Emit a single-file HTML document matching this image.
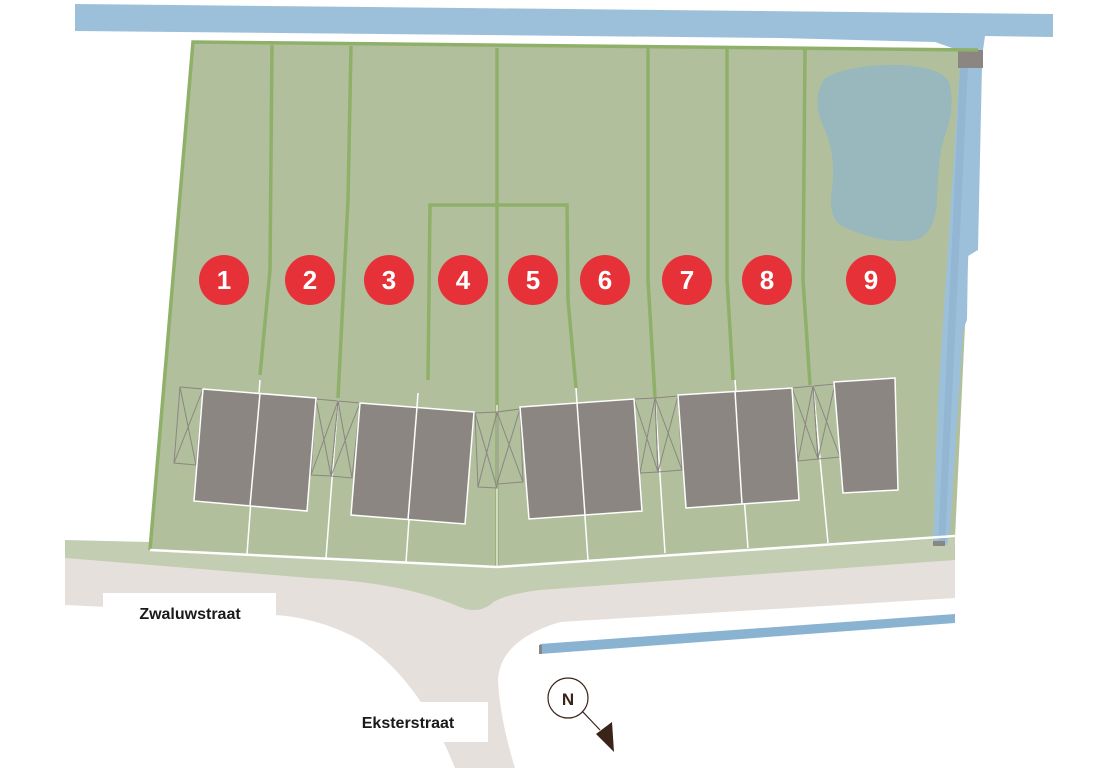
<!DOCTYPE html>
<html><head><meta charset="utf-8"><style>
html,body{margin:0;padding:0;background:#fff;width:1100px;height:768px;overflow:hidden}
svg{display:block}
</style></head><body>
<svg width="1100" height="768" viewBox="0 0 1100 768" xmlns="http://www.w3.org/2000/svg" font-family="Liberation Sans, Arial, sans-serif">
<!-- top water -->
<path d="M75,4 L1053,14 L1053,37 L985,36 L983,50 L958,50 L935,42 L780,38 L75,31 Z" fill="#9dc0da"/>
<!-- road beige -->
<path d="M65,555 L955,540 L955,598 L560,622 Q500,640 498,680 Q500,720 515,768 L455,768 Q420,680 360,640 Q320,618 275,615 L65,605 Z" fill="#e6e0dc"/>
<!-- white label boxes -->
<rect x="103" y="593" width="173" height="28" fill="#fff"/>
<rect x="340" y="702" width="148" height="40" fill="#fff"/>
<!-- light green verge -->
<path d="M65,540 L150,542 L955,528 L955,560 L540,590 Q500,595 490,605 Q475,615 455,605 Q400,582 310,578 L65,558 Z" fill="#c3cdb2"/>
<!-- land -->
<path d="M193,42 L978,50 L955,538 L497,567 L150,550 Z" fill="#b1bf9c"/>
<!-- pond -->
<path d="M825,78 Q850,64 900,65 Q945,67 950,85 Q955,110 945,135 Q938,155 937,200 Q935,235 915,240 Q880,245 840,225 Q828,215 832,190 Q836,155 825,130 Q810,100 825,78 Z" fill="#98b8bd"/>
<!-- right canal -->
<path d="M960,66 L982,66 L978,250 L968,256 L967,320 L963,330 L950,530 L947,545 L933,545 L938,400 Z" fill="#9dc0da"/>
<path d="M960,66 L968,66 L945,545 L938,545 Z" fill="#8fb4cf" opacity="0.7"/>
<rect x="958" y="50" width="25" height="18" fill="#8b8682"/>
<rect x="933" y="541" width="12" height="5" fill="#8b8682"/>
<!-- lower canal -->
<path d="M540,644 L955,614 L955,623 L540,654 Z" fill="#8ab3d2"/>
<rect x="539" y="645" width="3" height="9" fill="#8b8682"/>
<!-- land boundary green -->
<g stroke="#8fb069" stroke-width="3.5" fill="none" stroke-linecap="butt">
<path d="M150,550 L193,42 L978,50"/>
<path d="M272,45 L270,270 L260,375"/>
<path d="M351,46 L348,200 L338,398"/>
<path d="M497,48 L497,566"/>
<path d="M428,380 L430,205 L567,205 L568,300 L576,388" />
<path d="M648,48 L648,280 L655,398"/>
<path d="M727,49 L727,280 L733,380"/>
<path d="M805,50 L803,280 L810,385"/>
</g>
<!-- white lot lines -->
<g stroke="#fff" stroke-width="1.5" fill="none">
<path d="M150,550 L497,567 L955,536" stroke-width="2.5"/>
<path d="M260,380 L247,554"/>
<path d="M338,400 L326,558"/>
<path d="M418,393 L406,562"/>
<path d="M497,405 L497,566" stroke="#e8ebe0"/>
<path d="M576,388 L588,560"/>
<path d="M655,398 L665,553"/>
<path d="M735,380 L748,548"/>
<path d="M813,385 L828,543"/>
</g>
<!-- carports -->
<g stroke="#8b8682" stroke-width="1" fill="none">
<path d="M180,387 L203,389 L196,465 L174,463 Z M180,387 L196,465 M203,389 L174,463"/>
<path d="M316,399 L338,401 L331,476 L311,475 Z M316,399 L331,476 M338,401 L311,475"/>
<path d="M338,401 L360,403 L352,478 L331,476 Z M338,401 L352,478 M360,403 L331,476"/>
<path d="M475,413 L497,412 L497,488 L478,487 Z M475,413 L497,488 M497,412 L478,487"/>
<path d="M497,412 L520,409 L523,482 L497,484 Z M497,412 L523,482 M520,409 L497,484"/>
<path d="M634,399 L655,398 L658,472 L640,473 Z M634,399 L658,472 M655,398 L640,473"/>
<path d="M655,398 L678,396 L682,470 L658,472 Z M655,398 L682,470 M678,396 L658,472"/>
<path d="M792,388 L813,386 L818,459 L798,461 Z M792,388 L818,459 M813,386 L798,461"/>
<path d="M813,386 L835,384 L840,457 L818,459 Z M813,386 L840,457 M835,384 L818,459"/>
</g>
<!-- houses -->
<g fill="#8b8682" stroke="#fff" stroke-width="1.5">
<path d="M203,389 L316,398 L307,511 L194,501 Z"/>
<path d="M360,403 L474,412 L465,524 L351,515 Z"/>
<path d="M520,407 L634,399 L642,511 L529,519 Z"/>
<path d="M678,395 L792,388 L799,500 L686,508 Z"/>
<path d="M834,382 L895,378 L898,490 L843,493 Z"/>
</g>
<g stroke="#fff" stroke-width="1.5">
<line x1="260" y1="393" x2="250" y2="506"/>
<line x1="417" y1="407" x2="408" y2="520"/>
<line x1="577" y1="403" x2="585" y2="515"/>
<line x1="735" y1="391" x2="742" y2="504"/>
</g>
<!-- circles -->
<g fill="#e63138">
<circle cx="224" cy="280" r="25"/><circle cx="310" cy="280" r="25"/><circle cx="389" cy="280" r="25"/>
<circle cx="463" cy="280" r="25"/><circle cx="533" cy="280" r="25"/><circle cx="605" cy="280" r="25"/>
<circle cx="687" cy="280" r="25"/><circle cx="767" cy="280" r="25"/><circle cx="871" cy="280" r="25"/>
</g>
<g fill="#fff" font-size="26" font-weight="bold" text-anchor="middle">
<text x="224" y="289">1</text><text x="310" y="289">2</text><text x="389" y="289">3</text>
<text x="463" y="289">4</text><text x="533" y="289">5</text><text x="605" y="289">6</text>
<text x="687" y="289">7</text><text x="767" y="289">8</text><text x="871" y="289">9</text>
</g>
<!-- labels -->
<text x="190" y="619" font-size="16" font-weight="bold" fill="#1a1a1a" text-anchor="middle">Zwaluwstraat</text>
<text x="408" y="728" font-size="16" font-weight="bold" fill="#1a1a1a" text-anchor="middle">Eksterstraat</text>
<!-- north arrow -->
<circle cx="568" cy="698" r="20" fill="none" stroke="#3a2318" stroke-width="1.2"/>
<text x="568" y="705" font-size="17" font-weight="bold" fill="#3a2318" text-anchor="middle">N</text>
<line x1="582" y1="711" x2="600" y2="730" stroke="#3a2318" stroke-width="1.2"/>
<path d="M596,734 L612,722 L614,752 Z" fill="#3a2318"/>
</svg>
</body></html>
